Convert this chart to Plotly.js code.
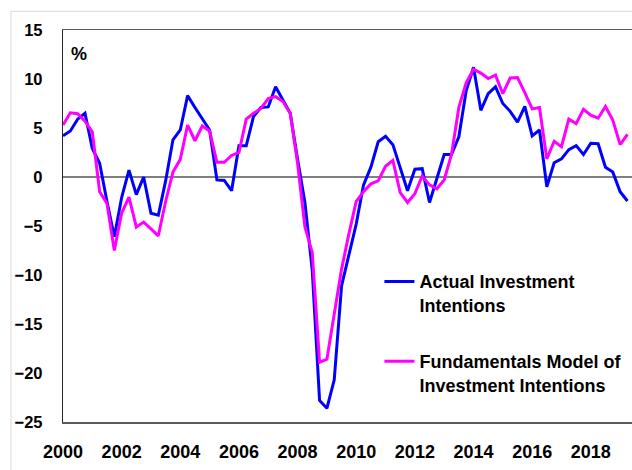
<!DOCTYPE html>
<html>
<head>
<meta charset="utf-8">
<script src="https://cdn.plot.ly/plotly-3.0.1.min.js"></script>
<style>
  html, body { margin: 0; padding: 0; overflow: hidden; background: #ffffff; }
  #chart { width: 660px; height: 470px; }
</style>
</head>
<body>
<div id="chart"></div>
<script>
// Quarterly series, 2000 Q1 to 2019 Q2
const startYear = 2000;
const actualInvestment = [
  4.2, 4.7, 5.9, 6.5, 2.9, 1.4, -2.5, -6.1,
  -2.1, 0.7, -1.8, 0.0, -3.7, -3.9, -0.4, 3.8,
  4.8, 8.3, 7.1, 6.0, 4.8, -0.3, -0.35, -1.4,
  3.2, 3.2, 6.2, 7.1, 7.15, 9.2, 7.9, 6.5,
  1.8, -2.6, -9.5, -22.8, -23.6, -20.7, -11.1, -7.85,
  -4.8, -0.8, 1.0, 3.6, 4.15, 3.3, 1.0, -1.4,
  0.8, 0.85, -2.6, -0.2, 2.3, 2.3, 4.1, 8.8,
  11.2, 6.8, 8.5, 9.2, 7.5, 6.7, 5.6, 7.2,
  4.2, 4.8, -1.0, 1.45, 1.85, 2.8, 3.2, 2.3,
  3.45, 3.4, 1.0, 0.5, -1.5, -2.45
];
const fundamentalsModel = [
  5.3, 6.55, 6.45, 5.7, 4.6, -1.5, -2.7, -7.5,
  -3.7, -2.05, -5.1, -4.6, -5.3, -6.0, -2.5, 0.5,
  1.8, 5.3, 3.7, 5.2, 4.7, 1.5, 1.5, 2.2,
  2.5, 5.9, 6.5, 7.0, 8.0, 8.2, 7.7, 6.5,
  1.4, -5.1, -7.7, -18.9, -18.6, -14.0, -9.4, -5.8,
  -2.5, -1.5, -0.7, -0.4, 1.1, 1.7, -1.6, -2.6,
  -1.7, 0.1, -0.8, -1.2, -0.3, 2.3, 7.1, 9.6,
  11.0, 10.6, 10.05, 10.4, 8.5, 10.1, 10.15, 8.6,
  6.95, 7.1, 1.85, 3.65, 3.1, 5.9, 5.45, 6.9,
  6.3, 6.0, 7.2, 5.8, 3.3, 4.35
];
const tickYears = [2000, 2002, 2004, 2006, 2008, 2010, 2012, 2014, 2016, 2018];
const tickLabels = ['2000', '2002', '2004', '2006', '2008', '2010', '2012', '2014', '2016', '2018'];
const yTicks = [15, 10, 5, 0, -5, -10, -15, -20, -25];
const seriesNames = ['Actual Investment<br>Intentions', 'Fundamentals Model of<br>Investment Intentions'];

// quarter positions (decimal years)
const quarters = actualInvestment.map((_, i) => startYear + i / 4);

const FONT = 'Liberation Sans, Arial, sans-serif';

const traces = [
  {
    x: quarters, y: actualInvestment, type: 'scatter', mode: 'lines',
    name: seriesNames[0], legendgroup: 'a',
    line: { color: '#0000FF', width: 3 }
  },
  {
    x: quarters, y: fundamentalsModel, type: 'scatter', mode: 'lines',
    name: seriesNames[1], legendgroup: 'b',
    line: { color: '#FF00FF', width: 3 }
  }
];

const layout = {
  width: 660, height: 470,
  margin: { l: 63, r: 0, t: 30, b: 48, autoexpand: false },
  paper_bgcolor: '#ffffff', plot_bgcolor: '#ffffff',
  showlegend: true,
  font: { family: FONT, color: '#000000' },
  xaxis: {
    range: [2000, 2020.36],
    tickvals: tickYears, ticktext: tickLabels,
    showgrid: false, zeroline: false,
    showline: true, mirror: true, linecolor: '#595959', linewidth: 1.5,
    ticks: '', ticklabelstandoff: 13,
    tickfont: { family: FONT, size: 18, weight: 'bold', color: '#000000' }
  },
  yaxis: {
    range: [-25, 15],
    tickvals: yTicks,
    showgrid: false,
    zeroline: true, zerolinecolor: '#808080', zerolinewidth: 1.5,
    showline: true, linecolor: '#262626', linewidth: 1.2,
    ticks: '', ticklabelstandoff: 16,
    tickfont: { family: FONT, size: 16.5, weight: 'bold', color: '#000000' }
  },
  legend: {
    x: 0.53, y: 0.405, xanchor: 'left', yanchor: 'top',
    bgcolor: 'rgba(0,0,0,0)', borderwidth: 0,
    valign: 'top', tracegroupgap: 30,
    font: { family: FONT, size: 18, weight: 'bold', color: '#000000' }
  },
  annotations: [
    {
      text: '%', xref: 'paper', yref: 'paper', x: 0.027, y: 0.94,
      showarrow: false, xanchor: 'center', yanchor: 'middle',
      font: { family: FONT, size: 18, weight: 'bold', color: '#000000' }
    }
  ],
  shapes: [
    {
      type: 'rect', xref: 'paper', yref: 'paper',
      x0: -0.0871, x1: 1.5, y0: -1, y1: 1.0477,
      line: { color: '#d9d9d9', width: 1 }, fillcolor: 'rgba(0,0,0,0)', layer: 'below'
    }
  ]
};

Plotly.newPlot('chart', traces, layout, { displayModeBar: false, staticPlot: true });
</script>
</body>
</html>
